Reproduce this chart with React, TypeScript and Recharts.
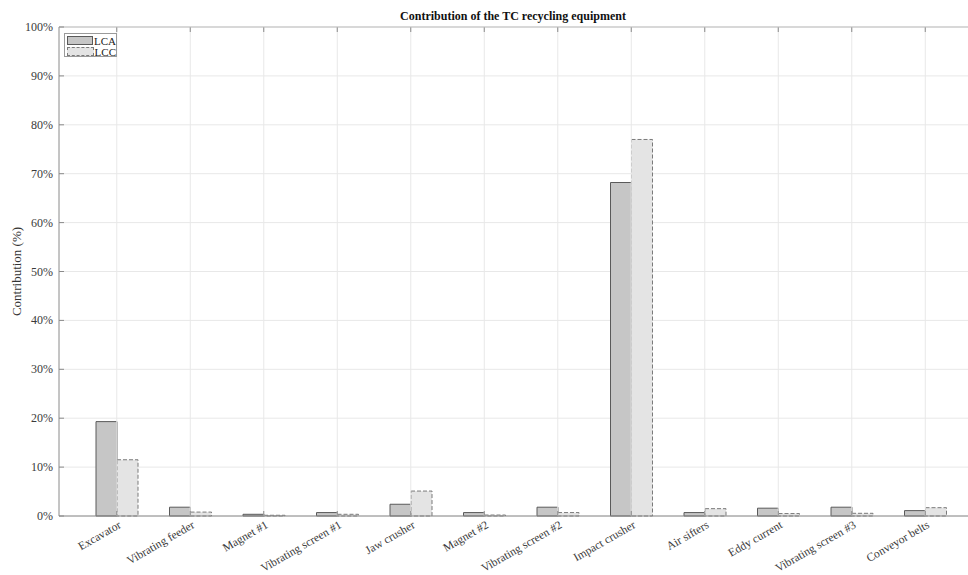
import React from 'react';
import { BarChart, Bar, XAxis, YAxis, CartesianGrid } from 'recharts';

const categories = [
  'Excavator', 'Vibrating feeder', 'Magnet #1', 'Vibrating screen #1', 'Jaw crusher', 'Magnet #2',
  'Vibrating screen #2', 'Impact crusher', 'Air sifters', 'Eddy current', 'Vibrating screen #3', 'Conveyor belts',
];
const lcaValues = [19.3, 1.8, 0.35, 0.7, 2.4, 0.7, 1.8, 68.2, 0.7, 1.6, 1.8, 1.1];
const lccValues = [11.5, 0.8, 0.15, 0.35, 5.1, 0.2, 0.7, 77.0, 1.5, 0.5, 0.55, 1.7];
const yTicks = [0, 10, 20, 30, 40, 50, 60, 70, 80, 90, 100];

const data = categories.map((name, i) => ({ name, LCA: lcaValues[i], LCC: lccValues[i] }));

const FONT = '"Liberation Serif", "Times New Roman", serif';
const TEXT = '#3a3a3a';
const AXIS = '#8a8a8a';
const GRID = '#e8e8e8';
const PLOT_TOP = 27;
const CHART_W = 968;

const XTick = (props: any) => {
  const { x, y, payload } = props;
  const ax = x + 5;
  const ay = y + 11;
  return (
    <g>
      <line x1={x} y1={y} x2={x} y2={PLOT_TOP} stroke={GRID} />
      <line x1={x} y1={y} x2={x} y2={y - 5} stroke={AXIS} />
      <line x1={x} y1={PLOT_TOP} x2={x} y2={PLOT_TOP + 5} stroke={AXIS} />
      <text
        x={ax}
        y={ay}
        textAnchor="end"
        fontFamily={FONT}
        fontSize={11.6}
        fill={TEXT}
        transform={`rotate(-30 ${ax} ${ay})`}
      >
        {payload.value}
      </text>
    </g>
  );
};

const YTick = (props: any) => {
  const { x, y, payload } = props;
  const ax = x + 6;
  return (
    <g>
      {payload.value === 100 ? <line x1={ax} y1={y} x2={CHART_W} y2={y} stroke="#bdbdbd" /> : null}
      <line x1={ax} y1={y} x2={ax + 5} y2={y} stroke={AXIS} />
      <text x={x} y={y + 4} textAnchor="end" fontFamily={FONT} fontSize={12} fill={TEXT}>
        {`${payload.value}%`}
      </text>
    </g>
  );
};

export default function App() {
  return (
    <div style={{ position: 'absolute', left: 0, top: 0, width: 968, height: 575, background: '#fff' }}>
      <div
        style={{
          position: 'absolute', left: 0, width: 1026, top: 9, textAlign: 'center',
          fontFamily: FONT, fontWeight: 'bold', fontSize: 12, color: '#111',
        }}
      >
        Contribution of the TC recycling equipment
      </div>
      <BarChart
        width={CHART_W}
        height={575}
        data={data}
        margin={{ top: PLOT_TOP, right: 0, bottom: 0, left: 0 }}
        barGap={0}
        barSize={21}
      >
        <CartesianGrid stroke={GRID} strokeWidth={1} vertical={false} />
        <XAxis
          dataKey="name"
          interval={0}
          height={59}
          padding={{ left: 21, right: 6 }}
          tick={<XTick />}
          tickLine={false}
          tickSize={0}
          tickMargin={0}
          axisLine={{ stroke: AXIS }}
        />
        <YAxis
          domain={[0, 100]}
          ticks={yTicks}
          width={59}
          tick={<YTick />}
          tickLine={false}
          tickSize={0}
          tickMargin={6}
          axisLine={{ stroke: AXIS }}
          label={{
            value: 'Contribution (%)', angle: -90, position: 'insideLeft', offset: 16,
            style: { fontFamily: FONT, fontSize: 13, fill: '#333', textAnchor: 'middle' },
          }}
        />
        <Bar dataKey="LCA" fill="#c6c6c6" stroke="#5a5a5a" strokeWidth={1} isAnimationActive={false} />
        <Bar
          dataKey="LCC"
          fill="#e4e4e4"
          stroke="#7a7a7a"
          strokeWidth={1}
          strokeDasharray="4 2"
          isAnimationActive={false}
        />
      </BarChart>
      <div
        style={{
          position: 'absolute', left: 64, top: 33, width: 53, height: 24, border: '1px solid #9a9a9a',
          boxSizing: 'border-box', background: '#fff', fontFamily: FONT, fontSize: 11, color: '#222',
        }}
      >
        <div style={{ display: 'flex', alignItems: 'center', height: 11, marginTop: 1 }}>
          <div style={{ width: 25, height: 7, marginLeft: 2, background: '#c6c6c6', border: '1px solid #5a5a5a' }} />
          <span style={{ marginLeft: 1 }}>LCA</span>
        </div>
        <div style={{ display: 'flex', alignItems: 'center', height: 11 }}>
          <div style={{ width: 25, height: 7, marginLeft: 2, background: '#e4e4e4', border: '1px dashed #7a7a7a' }} />
          <span style={{ marginLeft: 1 }}>LCC</span>
        </div>
      </div>
    </div>
  );
}
